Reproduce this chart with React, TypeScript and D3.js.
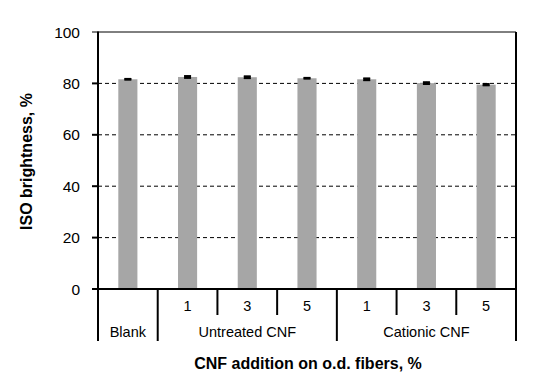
import React from "react";
import * as d3 from "d3";

const categories = ["Blank", "1", "3", "5", "1", "3", "5"];
const values = [81.6, 82.5, 82.4, 82.0, 81.6, 80.1, 79.5];
const errors = [0.3, 0.5, 0.5, 0.3, 0.5, 0.5, 0.4];
const yTicks = [0, 20, 40, 60, 80, 100];
const groups = [
  { label: "Untreated CNF", from: 1, to: 3 },
  { label: "Cationic CNF", from: 4, to: 6 },
];

const W = 535, H = 384;
const L = 98, R = 516, T = 32, B = 289;
const FONT = "Liberation Sans, Arial, sans-serif";

export default function App() {
  const x = d3.scaleBand<number>().domain(d3.range(categories.length)).range([L, R]).paddingInner(0.68).paddingOuter(0.34);
  const y = d3.scaleLinear().domain([0, 100]).range([B, T]);
  const slot = (R - L) / categories.length;
  const edge = (i: number) => L + slot * i;
  const numY = 315, grpY = 341;
  return (
    <svg width={W} height={H} style={{ position: "absolute", left: 0, top: 0, background: "#fff" }}>
      <rect x={0} y={0} width={W} height={H} fill="#fff" />
      {yTicks.filter(t => t > 0 && t < 100).map(t => (
        <line key={t} x1={L} x2={R} y1={y(t)} y2={y(t)} stroke="#000" strokeWidth={1} strokeDasharray="4,3" />
      ))}
      {values.map((v, i) => (
        <rect key={i} x={x(i)} y={y(v)} width={x.bandwidth()} height={B - y(v)} fill="#a6a6a6" />
      ))}
      {values.map((v, i) => {
        const cx = x(i)! + x.bandwidth() / 2;
        return (
          <g key={i} stroke="#000" strokeWidth={1.2}>
            <line x1={cx} x2={cx} y1={y(v + errors[i])} y2={y(v - errors[i])} />
            <line x1={cx - 3.5} x2={cx + 3.5} y1={y(v + errors[i])} y2={y(v + errors[i])} />
            <line x1={cx - 3.5} x2={cx + 3.5} y1={y(v - errors[i])} y2={y(v - errors[i])} />
            <rect x={cx - 3.5} y={y(v + errors[i])} width={7} height={y(v - errors[i]) - y(v + errors[i])} fill="#000" stroke="none" />
          </g>
        );
      })}
      {/* frame */}
      <line x1={L} x2={R} y1={T} y2={T} stroke="#000" strokeWidth={1} />
      <line x1={R} x2={R} y1={T} y2={grpY} stroke="#000" strokeWidth={2} />
      <line x1={L} x2={L} y1={T - 0.5} y2={grpY} stroke="#000" strokeWidth={2} />
      <line x1={L - 6} x2={R + 1} y1={B} y2={B} stroke="#000" strokeWidth={2} />
      {yTicks.map(t => (
        <g key={t}>
          <line x1={L - 6} x2={L} y1={y(t)} y2={y(t)} stroke="#000" strokeWidth={t === 100 ? 1 : 2} />
          <text x={80} y={y(t)} dy="0.36em" textAnchor="end" fontFamily={FONT} fontSize={15.5} fill="#000">{t}</text>
        </g>
      ))}
      {/* category dividers */}
      {d3.range(1, categories.length).map(i => {
        const long = i === 1 || i === 4;
        return <line key={i} x1={edge(i)} x2={edge(i)} y1={B} y2={long ? grpY : numY} stroke="#000" strokeWidth={2} />;
      })}
      {categories.map((c, i) => i === 0 ? (
        <text key={i} x={x(i)! + x.bandwidth() / 2} y={332} dy="0.36em" textAnchor="middle" fontFamily={FONT} fontSize={14.5}>{c}</text>
      ) : (
        <text key={i} x={x(i)! + x.bandwidth() / 2} y={306} dy="0.36em" textAnchor="middle" fontFamily={FONT} fontSize={14.5}>{c}</text>
      ))}
      {groups.map(g => (
        <text key={g.label} x={(edge(g.from) + edge(g.to + 1)) / 2} y={332} dy="0.36em" textAnchor="middle" fontFamily={FONT} fontSize={14.5}>{g.label}</text>
      ))}
      <text x={308} y={363} dy="0.36em" textAnchor="middle" fontFamily={FONT} fontSize={16} fontWeight="bold">CNF addition on o.d. fibers, %</text>
      <text transform={`translate(26,161.5) rotate(-90)`} dy="0.36em" textAnchor="middle" fontFamily={FONT} fontSize={16} fontWeight="bold">ISO brightness, %</text>
    </svg>
  );
}
